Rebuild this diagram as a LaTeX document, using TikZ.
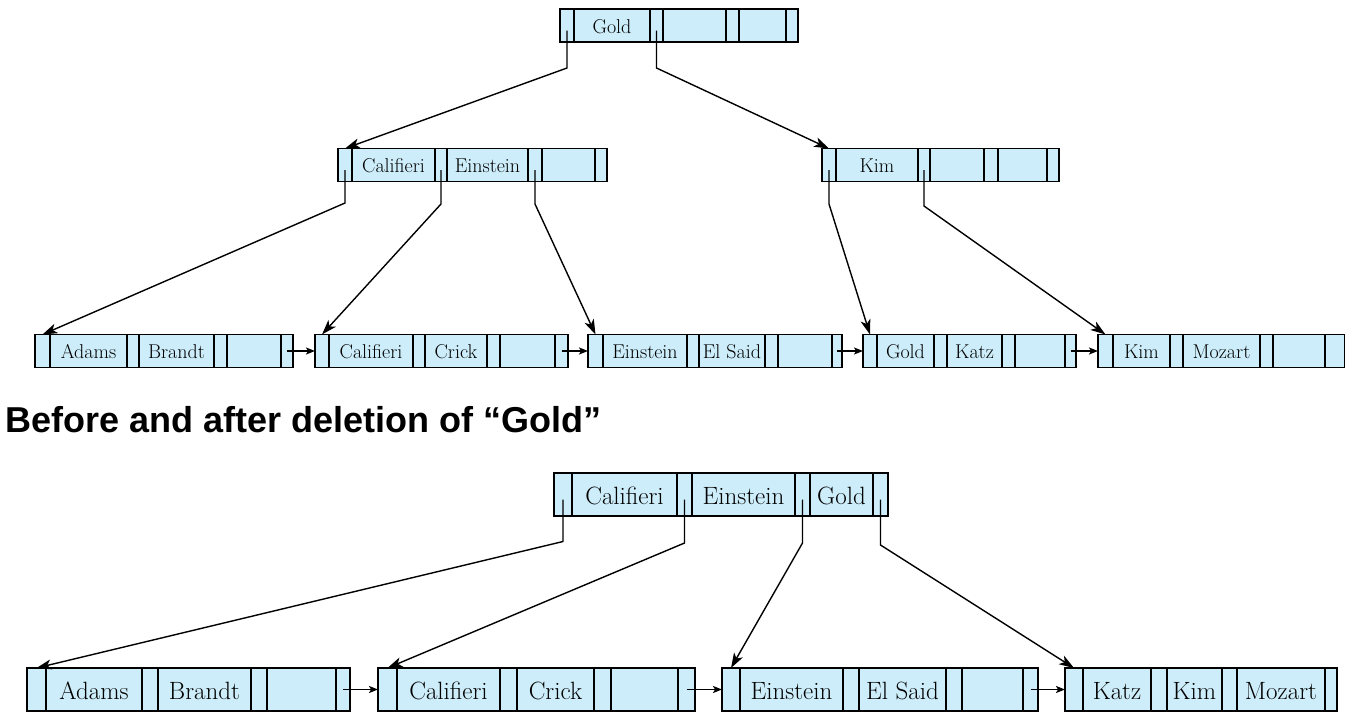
\documentclass[tikz,border=0pt]{standalone}
\usepackage{fontspec}
\newfontfamily\headfont{Liberation Sans}
\usetikzlibrary{positioning,arrows.meta}
\definecolor{bpcyan}{RGB}{204,237,249}
\tikzset{
	cell/.style={draw, fill=bpcyan, line width=1.6pt, inner sep=0pt, outer sep=0pt, text depth=0pt},
	topcell/.style={cell, minimum height=33pt, text height=15.6pt, font=\fontsize{20}{24}\selectfont},
	botcell/.style={cell, minimum height=43pt, text height=19.5pt, font=\fontsize{25}{30}\selectfont},
	ptr/.style={line width=1.4pt, -{Stealth[length=15pt,width=10pt,inset=4pt]}},
	nxt/.style={line width=1.4pt, -{Stealth[length=9pt,width=7pt,inset=2pt]}}
}
% one B+ tree node: name, cell style, left middle point, widths/keys
\newcommand{\bpnode}[4]{%
	\coordinate (#1-0) at #3;
	\foreach \w/\t [count=\i, remember=\i as \j (initially 0)] in {#4}
		\node[#2, minimum width=\w pt, right=0pt of #1-\j] (#1-\i) {\t};
}
\begin{document}
\begin{tikzpicture}[x=1pt,y=-1pt]
	\useasboundingbox (0,0) rectangle (1345,723);
	% before
	\bpnode{R}{topcell}{(560,25.5)}{14/,76/Gold,13/,63/,13/,47/,12/}
	\bpnode{M1}{topcell}{(338,165)}{14/,83/Califieri,12/,81/Einstein,14/,53/,12/}
	\bpnode{M2}{topcell}{(822,165)}{14/,82/Kim,12/,54/,14/,49/,12/}
	\bpnode{L1}{topcell}{(35,351)}{15/,77/Adams,12/,75/Brandt,13/,54/,12/}
	\bpnode{L2}{topcell}{(315,351)}{14/,84/Califieri,12/,62/Crick,13/,55/,13/}
	\bpnode{L3}{topcell}{(588,351)}{15/,84/Einstein,12/,66/El Said,13/,54/,10/}
	\bpnode{L4}{topcell}{(863,351)}{14/,57/Gold,13/,55/Katz,13/,50/,11/}
	\bpnode{L5}{topcell}{(1098,351)}{15/,57/Kim,13/,77/Mozart,13/,52/,20/}
	\draw[ptr] ([yshift=-5pt]R-1.center) -- ++(0,37.5) -- (M1-1.north);
	\draw[ptr] ([yshift=-5pt]R-3.center) -- ++(0,37.5) -- (M2-1.north);
	\draw[ptr] ([yshift=-5pt]M1-1.center) -- ++(0,33) -- (L1-1.north);
	\draw[ptr] ([yshift=-5pt]M1-3.center) -- ++(0,34) -- (L2-1.north);
	\draw[ptr] ([yshift=-5pt]M1-5.center) -- ++(0,34) -- (L3-1.north);
	\draw[ptr] ([yshift=-5pt]M2-1.center) -- ++(0,34) -- (L4-1.north);
	\draw[ptr] ([yshift=-5pt]M2-3.center) -- ++(0,36) -- (L5-1.north);
	\draw[nxt] (L1-7.center) -- (L2-1.west);
	\draw[nxt] (L2-7.center) -- (L3-1.west);
	\draw[nxt] (L3-7.center) -- (L4-1.west);
	\draw[nxt] (L4-7.center) -- (L5-1.west);
	\node[anchor=base west, inner sep=0pt, font=\headfont\bfseries\fontsize{36}{40}\selectfont] (title) at (5,432) {Before and after deletion of “Gold”};
	% after
	\bpnode{S}{botcell}{(554,494.5)}{18/,105/Califieri,15/,103/Einstein,15/,63/Gold,15/}
	\bpnode{N1}{botcell}{(27,689.5)}{19/,96/Adams,16/,93/Brandt,16/,69/,14/}
	\bpnode{N2}{botcell}{(378,689.5)}{19/,103/Califieri,17/,77/Crick,17/,67/,17/}
	\bpnode{N3}{botcell}{(722,689.5)}{18/,103/Einstein,16/,87/El Said,16/,61/,15/}
	\bpnode{N4}{botcell}{(1065,689.5)}{18/,68/Katz,16/,55/Kim,15/,88/Mozart,12/}
	\draw[ptr] ([yshift=-5pt]S-1.center) -- ++(0,42) -- (N1-1.north);
	\draw[ptr] ([yshift=-5pt]S-3.center) -- ++(0,43.5) -- (N2-1.north);
	\draw[ptr] ([yshift=-5pt]S-5.center) -- ++(0,43.5) -- (N3-1.north);
	\draw[ptr] ([yshift=-5pt]S-7.center) -- ++(0,45.5) -- (N4-1.north);
	\draw[nxt] (N1-7.center) -- (N2-1.west);
	\draw[nxt] (N2-7.center) -- (N3-1.west);
	\draw[nxt] (N3-7.center) -- (N4-1.west);
\end{tikzpicture}
\end{document}
